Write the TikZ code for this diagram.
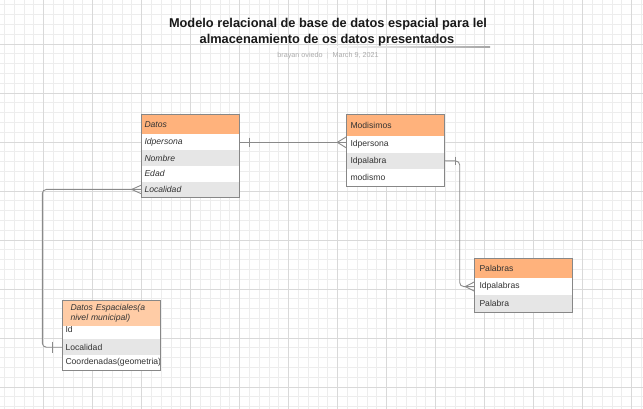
\documentclass[tikz,border=0pt]{standalone}
\usepackage{fontspec}
\setmainfont{Liberation Sans}
\usetikzlibrary{calc}
\definecolor{hdr}{HTML}{FFB27C}
\definecolor{hdrlight}{HTML}{FFCCA6}
\definecolor{rowgray}{HTML}{E6E6E6}
\definecolor{bordergray}{HTML}{878787}
\definecolor{conngray}{HTML}{8A8A8A}
\definecolor{minorgrid}{HTML}{EDEDED}
\definecolor{majorgrid}{HTML}{D9D9D9}
\definecolor{txt}{HTML}{333333}
\definecolor{subtxt}{HTML}{ABABAB}
\tikzset{
  cellbox/.style={anchor=north west, inner ysep=0pt, align=left, minimum width=98pt,
    font=\fontsize{8.6}{10.3}\selectfont, text=txt, fill=white},
  hdrbox/.style={cellbox, fill=hdr},
  tblborder/.style={draw=bordergray, line width=0.9pt},
  conn/.style={draw=conngray, line width=0.9pt},
  minorline/.style={draw=minorgrid, line width=0.9pt},
  majorline/.style={draw=majorgrid, line width=0.9pt},
}
\begin{document}
\begin{tikzpicture}[x=1pt,y=-1pt]
\useasboundingbox (0,0) rectangle (643,409);
\fill[white] (0,0) rectangle (643,409);
% grid
\foreach \i in {0,...,65} { \draw[minorline] ({4.5+9.8*\i},0) -- ({4.5+9.8*\i},409); }
\foreach \j in {0,...,41} { \draw[minorline] (0,{4.9+9.8*\j}) -- (643,{4.9+9.8*\j}); }
\foreach \i in {0,...,12} { \draw[majorline] ({43.5+49*\i},0) -- ({43.5+49*\i},409); }
\foreach \j in {0,...,7} { \draw[majorline] (0,{44.1+49*\j}) -- (643,{44.1+49*\j}); }

% title
\node[anchor=base, inner sep=0pt, font=\fontsize{12.8}{16}\selectfont\bfseries, text=black!90] (title1) at (328,28) {Modelo relacional de base de datos espacial para lel};
\node[anchor=base, inner sep=0pt, font=\fontsize{12.8}{16}\selectfont\bfseries, text=black!90] (title2) at (327,44) {almacenamiento de os datos presentados};
\shade[left color=white, right color=gray!70] (325,46.8) rectangle (490,47.8);
\node[anchor=center, inner sep=0pt, font=\fontsize{7.2}{9}\selectfont, text=subtxt] (subtitle) at (328,55.7) {brayan oviedo\hspace{4pt}{\color{gray!35}|}\hspace{4pt}March 9, 2021};

% Datos
\node[hdrbox, minimum height=20pt, text width=92pt, inner xsep=3pt] (datos-h) at (141.3,114.3) {\itshape Datos};
\node[cellbox, minimum height=15.7pt, text width=92pt, inner xsep=3pt] (datos-idpersona) at (141.3,134.3) {\itshape Idpersona};
\node[cellbox, fill=rowgray, minimum height=15.7pt, text width=92pt, inner xsep=3pt] (datos-nombre) at (141.3,150) {\itshape Nombre};
\node[cellbox, minimum height=15.7pt, text width=92pt, inner xsep=3pt] (datos-edad) at (141.3,165.7) {\itshape Edad};
\node[cellbox, fill=rowgray, minimum height=15.7pt, text width=92pt, inner xsep=3pt] (datos-localidad) at (141.3,181.4) {\itshape Localidad};
\draw[tblborder] (datos-h.north west) rectangle (datos-localidad.south east);

% Modisimos
\node[hdrbox, minimum height=21.7pt, text width=90pt, inner xsep=4pt] (modi-h) at (346.3,114) {Modisimos};
\node[cellbox, minimum height=16.7pt, text width=90pt, inner xsep=4pt] (modi-idpersona) at (346.3,135.7) {Idpersona};
\node[cellbox, fill=rowgray, minimum height=16.7pt, text width=90pt, inner xsep=4pt] (modi-idpalabra) at (346.3,152.4) {Idpalabra};
\node[cellbox, minimum height=16.7pt, text width=90pt, inner xsep=4pt] (modi-modismo) at (346.3,169.1) {modismo};
\draw[tblborder] (modi-h.north west) rectangle (modi-modismo.south east);

% Palabras
\node[hdrbox, minimum height=19pt, text width=88pt, inner xsep=5pt] (pal-h) at (474.3,258.7) {Palabras};
\node[cellbox, minimum height=17.3pt, text width=88pt, inner xsep=5pt] (pal-idpalabras) at (474.3,277.7) {Idpalabras};
\node[cellbox, fill=rowgray, minimum height=17.3pt, text width=88pt, inner xsep=5pt] (pal-palabra) at (474.3,295) {Palabra};
\draw[tblborder] (pal-h.north west) rectangle (pal-palabra.south east);

% Datos Espaciales
\node[cellbox, minimum height=19pt, text width=92pt, inner xsep=3pt] (desp-id) at (62.3,320) {Id};
\node[hdrbox, fill=hdrlight, minimum height=26pt, text width=82pt, inner xsep=8pt] (desp-h) at (62.3,300) {\itshape Datos Espaciales(a\\\itshape nivel municipal)};
\node[cellbox, fill=rowgray, minimum height=16pt, text width=92pt, inner xsep=3pt] (desp-localidad) at (62.3,339) {Localidad};
\node[cellbox, minimum height=15pt, text width=92pt, inner xsep=3pt] (desp-coord) at (62.3,355) {Coordenadas(geometria)};
\draw[tblborder] (desp-h.north west) rectangle (desp-coord.south east);

% connector 1: Datos.Idpersona -- Modisimos.Idpersona
\coordinate (c1s) at (datos-idpersona.east);
\coordinate (c1e) at (datos-idpersona.east -| modi-idpersona.west);
\draw[conn] (c1s) -- (c1e);
\draw[conn] ($(c1s)+(9.5,-4.7)$) -- ($(c1s)+(9.5,4.7)$);
\draw[conn] ($(c1e)+(-9,0)$) -- ($(c1e)+(0,-5.5)$);
\draw[conn] ($(c1e)+(-9,0)$) -- ($(c1e)+(0,5.5)$);

% connector 2: Modisimos.Idpalabra -- Palabras.Idpalabras
\coordinate (c2s) at (modi-idpalabra.east);
\coordinate (c2e) at (pal-idpalabras.west);
\draw[conn, rounded corners=4pt] (c2s) -- ($(c2s)+(15,0)$) |- (c2e);
\draw[conn] ($(c2s)+(10.5,-4.3)$) -- ($(c2s)+(10.5,4.3)$);
\draw[conn] ($(c2e)+(-9,0)$) -- ($(c2e)+(0,-4.6)$);
\draw[conn] ($(c2e)+(-9,0)$) -- ($(c2e)+(0,4.6)$);

% connector 3: Datos.Localidad -- Datos Espaciales.Localidad
\coordinate (c3s) at (datos-localidad.west);
\coordinate (c3e) at (desp-localidad.west);
\draw[conn, rounded corners=4pt] (c3s) -| ($(c3e)+(-20,0)$) -- (c3e);
\draw[conn] ($(c3s)+(-9.6,0)$) -- ($(c3s)+(0,-4.3)$);
\draw[conn] ($(c3s)+(-9.6,0)$) -- ($(c3s)+(0,4.3)$);
\draw[conn] ($(c3e)+(-9.6,-5.5)$) -- ($(c3e)+(-9.6,5.5)$);
\end{tikzpicture}
\end{document}
